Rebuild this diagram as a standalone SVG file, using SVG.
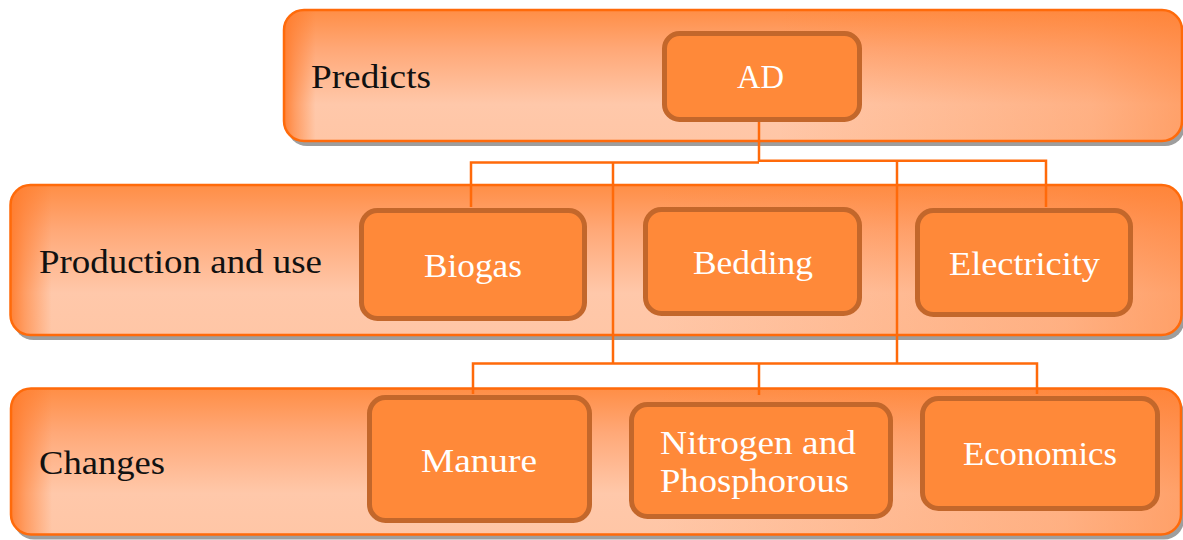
<svg xmlns="http://www.w3.org/2000/svg" width="1183" height="540" viewBox="0 0 1183 540">
<defs>
<linearGradient id="bandV" x1="0" y1="0" x2="0" y2="1">
<stop offset="0" stop-color="#FF8E46"/>
<stop offset="0.3" stop-color="#FFA877"/>
<stop offset="0.72" stop-color="#FFC8AA"/>
<stop offset="1" stop-color="#FFC6A6"/>
</linearGradient>
<linearGradient id="bandH" x1="0" y1="0" x2="1" y2="0">
<stop offset="0" stop-color="#FF7A2A" stop-opacity="0.9"/>
<stop offset="0.012" stop-color="#FF7A2A" stop-opacity="0.55"/>
<stop offset="0.035" stop-color="#FF7A2A" stop-opacity="0"/>
<stop offset="0.55" stop-color="#FF7A2A" stop-opacity="0"/>
<stop offset="0.9" stop-color="#FF7A2A" stop-opacity="0.3"/>
<stop offset="1" stop-color="#FF7A2A" stop-opacity="0.5"/>
</linearGradient>
<style>
.shadow{fill:#9E9E9E}
.band{fill:url(#bandV)}
.bandov{fill:url(#bandH)}
.bandedge{fill:none;stroke:#FF6A0A;stroke-width:2.5}
.node{fill:#FF8939;stroke:#C3672B;stroke-width:5}
.lbl{font-size:33px;fill:#111111}
.ntxt{font-size:33px;fill:#FFFFFF}
.conn{fill:none;stroke:#FF6A0A;stroke-width:2.5}
</style>
</defs>

<g id="band-predicts">
<rect class="shadow" x="287" y="15" width="898" height="131" rx="20"/>
<rect class="band" x="284" y="10" width="898" height="131" rx="20"/>
<rect class="bandov" x="284" y="10" width="898" height="131" rx="20"/>
<rect class="bandedge" x="284" y="10" width="898" height="131" rx="20"/>
<text class="lbl" font-family="'Liberation Serif', 'DejaVu Serif', serif" x="311" y="88" textLength="120" lengthAdjust="spacingAndGlyphs">Predicts</text>
</g>

<g id="band-production">
<rect class="shadow" x="13.5" y="190" width="1171" height="150" rx="20"/>
<rect class="band" x="10.5" y="185" width="1171" height="150" rx="20"/>
<rect class="bandov" x="10.5" y="185" width="1171" height="150" rx="20"/>
<rect class="bandedge" x="10.5" y="185" width="1171" height="150" rx="20"/>
<text class="lbl" font-family="'Liberation Serif', 'DejaVu Serif', serif" x="39" y="273" textLength="283" lengthAdjust="spacingAndGlyphs">Production and use</text>
</g>

<g id="band-changes">
<rect class="shadow" x="14" y="393.5" width="1170" height="146" rx="20"/>
<rect class="band" x="11" y="388.5" width="1170" height="146" rx="20"/>
<rect class="bandov" x="11" y="388.5" width="1170" height="146" rx="20"/>
<rect class="bandedge" x="11" y="388.5" width="1170" height="146" rx="20"/>
<text class="lbl" font-family="'Liberation Serif', 'DejaVu Serif', serif" x="39" y="474" textLength="126" lengthAdjust="spacingAndGlyphs">Changes</text>
</g>

<g id="connectors">
<path class="conn" d="M759 121 V162"/>
<path class="conn" d="M471 207 V162.5 H759"/>
<path class="conn" d="M759 160.8 H1046 V207"/>
<path class="conn" d="M613 162.5 V363.5"/>
<path class="conn" d="M897 161 V363.5"/>
<path class="conn" d="M473 394 V363.5 H1037 V394"/>
<path class="conn" d="M759 363.5 V395"/>
</g>

<g id="node-ad">
<rect class="node" x="664.5" y="33.5" width="195" height="86" rx="15"/>
<text class="ntxt" font-family="'Liberation Serif', 'DejaVu Serif', serif" x="737" y="88" textLength="47" lengthAdjust="spacingAndGlyphs">AD</text>
</g>
<g id="node-biogas">
<rect class="node" x="361.5" y="210.5" width="223" height="108" rx="16"/>
<text class="ntxt" font-family="'Liberation Serif', 'DejaVu Serif', serif" x="424" y="277" textLength="98" lengthAdjust="spacingAndGlyphs">Biogas</text>
</g>
<g id="node-bedding">
<rect class="node" x="645.5" y="209.5" width="214" height="104" rx="16"/>
<text class="ntxt" font-family="'Liberation Serif', 'DejaVu Serif', serif" x="693" y="274" textLength="120" lengthAdjust="spacingAndGlyphs">Bedding</text>
</g>
<g id="node-electricity">
<rect class="node" x="917.5" y="210.5" width="213" height="104" rx="16"/>
<text class="ntxt" font-family="'Liberation Serif', 'DejaVu Serif', serif" x="949" y="275" textLength="151" lengthAdjust="spacingAndGlyphs">Electricity</text>
</g>
<g id="node-manure">
<rect class="node" x="369.5" y="397.5" width="220" height="123" rx="16"/>
<text class="ntxt" font-family="'Liberation Serif', 'DejaVu Serif', serif" x="421" y="472" textLength="116" lengthAdjust="spacingAndGlyphs">Manure</text>
</g>
<g id="node-nitrogen">
<rect class="node" x="631.5" y="404.5" width="259" height="112" rx="16"/>
<text class="ntxt" font-family="'Liberation Serif', 'DejaVu Serif', serif" x="660" y="454" textLength="196" lengthAdjust="spacingAndGlyphs">Nitrogen and</text>
<text class="ntxt" font-family="'Liberation Serif', 'DejaVu Serif', serif" x="660" y="492" textLength="189" lengthAdjust="spacingAndGlyphs">Phosphorous</text>
</g>
<g id="node-economics">
<rect class="node" x="922.5" y="398.5" width="235" height="110" rx="16"/>
<text class="ntxt" font-family="'Liberation Serif', 'DejaVu Serif', serif" x="963" y="465" textLength="154" lengthAdjust="spacingAndGlyphs">Economics</text>
</g>
</svg>
